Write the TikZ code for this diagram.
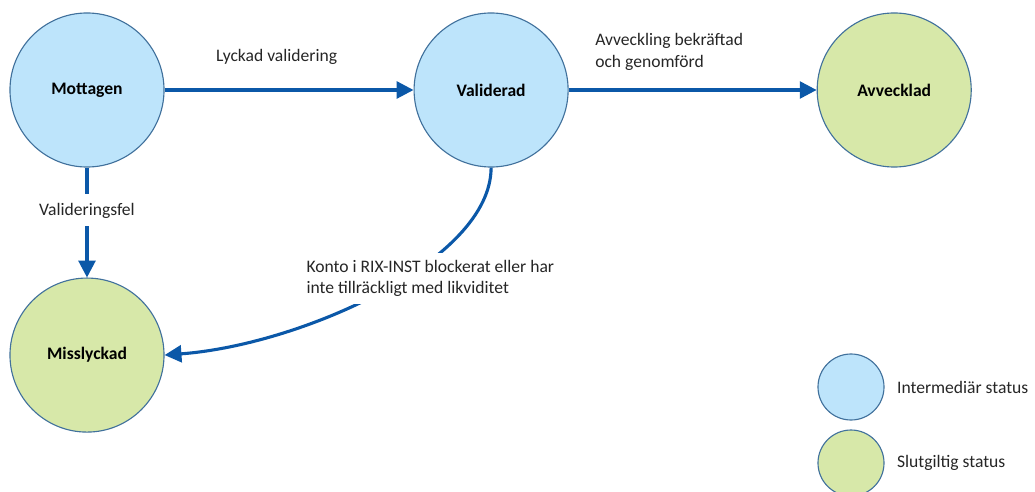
\documentclass[tikz,border=0pt]{standalone}
\usepackage{fontspec}
\setmainfont{Carlito}
\usetikzlibrary{
    arrows.meta, % for the triangle arrow tips
    positioning % for placing nodes relative to other nodes
}
\definecolor{flowblue}{HTML}{0B58A8}
\definecolor{ringblue}{HTML}{41719C}
\definecolor{midfill}{HTML}{BDE4FB}
\definecolor{endfill}{HTML}{D7E8A9}

\begin{document}
\begin{tikzpicture}[
    x=0.025cm,y=-0.025cm,
    node distance=10.1cm,on grid,>={Triangle[length=12pt,width=12pt]},
    font=\fontsize{12.5}{15.5}\selectfont,
    mid status/.style = {circle,minimum size=3.85cm,inner sep=0pt,draw=ringblue,line width=0.8pt,fill=midfill,font=\fontsize{12.5}{15}\selectfont\bfseries},
    end status/.style = {mid status,fill=endfill},
    key/.style        = {minimum size=1.65cm},
    flow/.style       = {->,draw=flowblue,line width=2.2pt},
    tag/.style        = {align=left,inner sep=3pt,text=black!85}
]

    \useasboundingbox (0,0) rectangle (1035,492);

% states

    \node [mid status] (mot) at (87,90)               {Mottagen};
    \node [mid status] (val) [right=of mot]           {Validerad};
    \node [end status] (avv) [right=10.075cm of val]  {Avvecklad};
    \node [end status] (mis) [below=6.625cm of mot]   {Misslyckad};

% transitions

    \draw [flow] (mot) -- node [tag,pos=0.45,yshift=0.825cm] (lyc) {Lyckad validering} (val);
    \draw [flow] (val) -- node [tag,pos=0.405,yshift=0.95cm] (bek) {Avveckling bekräftad\\och genomförd} (avv);
    \draw [flow] (mot) -- node [tag,pos=0.39,fill=white,inner ysep=6pt] (fel) {Valideringsfel} (mis);
    \draw [flow] (val.south) .. controls +(0,93) and +(136,-10) .. (mis.east)
        node [tag,pos=0.4,fill=white,inner sep=5pt,xshift=0.375cm,yshift=-0.19cm] (kon)
            {Konto i RIX-INST blockerat eller har\\inte tillräckligt med likviditet};

% legend

    \node [mid status,key] (keymid) at (851,387) {};
    \node [end status,key] (keyend) [below=1.9cm of keymid] {};
    \node [tag,anchor=west] (keymidtxt) at ([xshift=0.2cm]keymid.east) {Intermediär status};
    \node [tag,anchor=west] (keyendtxt) at ([xshift=0.2cm]keyend.east) {Slutgiltig status};

\end{tikzpicture}
\end{document}
